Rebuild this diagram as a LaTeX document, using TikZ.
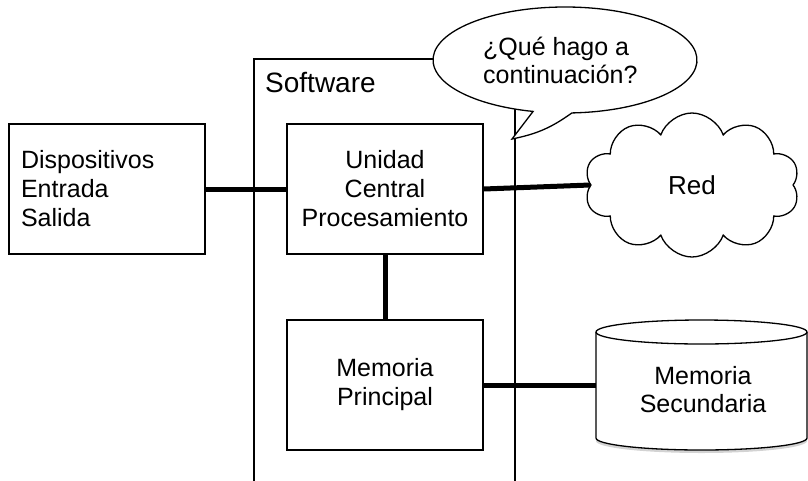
\documentclass[tikz,border=0pt]{standalone}
\usepackage{fontspec}
\setmainfont{Liberation Sans}
\usetikzlibrary{shapes.symbols,shadows}
\begin{document}
\begin{tikzpicture}[x=1pt,y=1pt,
  box/.style={draw, line width=1.3pt, minimum width=196pt, minimum height=130pt, inner sep=0pt, font=\fontsize{25}{29}\selectfont, align=center},
  link/.style={line width=5pt},
  thinline/.style={line width=1.3pt}]
\useasboundingbox (0,0) rectangle (808,-480);
% Software container
\draw[thinline] (254,-490) -- (254,-59) -- (515,-59) -- (515,-490);
\node[anchor=base west, font=\fontsize{28}{32}\selectfont, inner sep=0pt] (sw) at (265,-92) {Software};
% speech bubble
\filldraw[thinline, fill=white] ({565+132*cos(273)},{-60+53*sin(273)}) arc[start angle=273, end angle=616, x radius=132, y radius=53] -- (512,-139) to[bend right=12] ({565+132*cos(273)},{-60+53*sin(273)}) -- cycle;
\node[anchor=base west, align=left, font=\fontsize{25}{28}\selectfont, inner sep=0pt] (q) at (483,-83) {¿Qué hago a\\continuación?};
% boxes
\node[box, text width=172pt, inner xsep=12pt, align=left] (io) at (107,-189) {Dispositivos\\Entrada\\Salida};
\node[box] (cpu) at (385,-189) {Unidad\\Central\\Procesamiento};
\node[box] (mem) at (385,-385) {Memoria\\Principal};
% cloud
\node[cloud, draw, thinline, cloud puffs=10, cloud puff arc=140, aspect=1.5, minimum width=215pt, minimum height=144pt, inner sep=0pt, font=\fontsize{26}{30}\selectfont] (red) at (692,-185) {Red};
% cylinder
\node[minimum width=211pt, minimum height=130pt, inner sep=0pt] (disk) at (701.5,-385) {};
\filldraw[thinline, fill=white, drop shadow={shadow xshift=0pt, shadow yshift=-3pt, opacity=0.35}] (596,-332) -- (596,-438) arc[start angle=180, end angle=360, x radius=105.5, y radius=12] -- (807,-332) arc[start angle=0, end angle=180, x radius=105.5, y radius=12] -- cycle;
\draw[thinline] (596,-332) arc[start angle=180, end angle=360, x radius=105.5, y radius=12];
\node[font=\fontsize{25}{28}\selectfont, align=center, inner sep=0pt] (ms) at (703,-390) {Memoria\\Secundaria};
% connectors
\draw[link] (io.east) -- (cpu.west);
\draw[link] (cpu.south) -- (mem.north);
\draw[link] (cpu.east) -- (red.west);
\draw[link] (mem.east) -- (disk.west);
\end{tikzpicture}
\end{document}
